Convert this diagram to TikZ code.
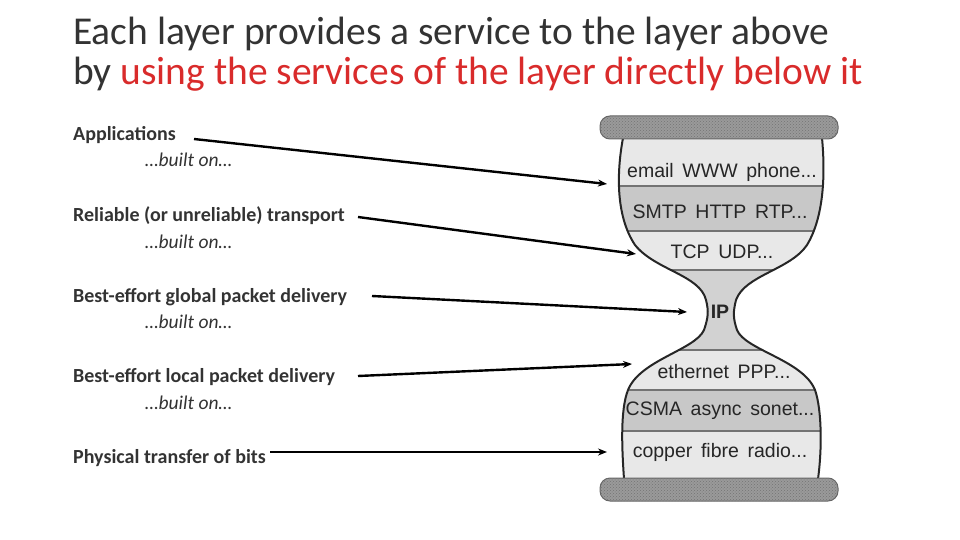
\documentclass[tikz,border=0pt]{standalone}
\usepackage{fontspec}
\setmainfont{Carlito}
\newfontfamily\hgfont{Liberation Sans}
\usetikzlibrary{arrows.meta,patterns}
\definecolor{titlered}{HTML}{D92B2B}
\definecolor{bandlight}{HTML}{E8E8E8}
\definecolor{banddark}{HTML}{C8C8C8}
\definecolor{bandip}{HTML}{D2D2D2}
\definecolor{bargray}{HTML}{9A9A9A}
\definecolor{hgtext}{HTML}{262626}
\definecolor{labeltext}{HTML}{333333}
\tikzset{
  titletext/.style={anchor=base west,inner sep=0pt,font=\fontsize{39.5}{44}\selectfont,text=black!80},
  layerlabel/.style={anchor=base west,inner sep=0pt,font=\fontsize{20}{22}\selectfont\bfseries,text=labeltext},
  builton/.style={anchor=base west,inner sep=0pt,font=\fontsize{19.5}{22}\selectfont\itshape,text=labeltext},
  hgtxt/.style={inner sep=0pt,font=\hgfont\fontsize{19.5}{21}\selectfont,text=hgtext},
  pointer/.style={line width=2.4pt,-{Stealth[length=9pt,width=7pt]}},
  barstyle/.style={rounded corners=10pt,fill=bargray,draw=black!60,line width=1pt,postaction={pattern=crosshatch dots,pattern color=black!55}},
  sep/.style={draw=black!55,line width=1.2pt}
}
\begin{document}
\begin{tikzpicture}[x=1pt,y=-1pt]
\useasboundingbox (0,0) rectangle (960,540);
% title
\node[titletext] (t1) at (73,45) {Each layer provides a service to the layer above};
\node[titletext] (t2) at (73,85) {by \textcolor{titlered}{using the services of the layer directly below it}};

% labels
\node[layerlabel] (l1) at (73,141) {Applications};
\node[builton] (b1) at (145,167) {\dots built on\dots};
\node[layerlabel] (l2) at (73,221.5) {Reliable (or unreliable) transport};
\node[builton] (b2) at (145,248) {\dots built on\dots};
\node[layerlabel] (l3) at (73,302) {Best-effort global packet delivery};
\node[builton] (b3) at (145,328) {\dots built on\dots};
\node[layerlabel] (l4) at (73,382.5) {Best-effort local packet delivery};
\node[builton] (b4) at (145,409) {\dots built on\dots};
\node[layerlabel] (l5) at (73,463) {Physical transfer of bits};

% hourglass body
\def\hgpath{(623,138) .. controls (617,170) and (615,215) .. (635,245)
  .. controls (655,270) and (700,275) .. (706,300)
  .. controls (709,312) and (708,318) .. (704,330)
  .. controls (695,350) and (640,360) .. (628,390)
  .. controls (620,410) and (622,450) .. (624,479)
  -- (818,479)
  .. controls (822,450) and (822,410) .. (815,390)
  .. controls (803,360) and (745,350) .. (737,330)
  .. controls (733,318) and (733,312) .. (736,300)
  .. controls (745,275) and (790,270) .. (807,245)
  .. controls (825,215) and (825,170) .. (822,138) -- cycle}
\begin{scope}
  \clip \hgpath;
  \fill[bandlight] (600,130) rectangle (840,186);
  \fill[banddark] (600,186) rectangle (840,231);
  \fill[bandlight] (600,231) rectangle (840,270);
  \fill[bandip] (600,270) rectangle (840,350);
  \fill[bandlight] (600,350) rectangle (840,390);
  \fill[banddark] (600,390) rectangle (840,431);
  \fill[bandlight] (600,431) rectangle (840,485);
  \draw[sep] (600,186) -- (840,186);
  \draw[sep] (600,231) -- (840,231);
  \draw[sep] (600,270) -- (840,270);
  \draw[sep] (600,350) -- (840,350);
  \draw[sep] (600,390) -- (840,390);
  \draw[sep] (600,431) -- (840,431);
\end{scope}
\draw[line width=2pt,black!85] \hgpath;

% bars
\draw[barstyle] (600,116) rectangle (838,139);
\draw[barstyle] (600,478) rectangle (838,501);

% hourglass texts
\node[hgtxt] (h1) at (722,172) {email\, WWW\, phone...};
\node[hgtxt] (h2) at (720,212) {SMTP\, HTTP\, RTP...};
\node[hgtxt] (h3) at (722,252) {TCP\, UDP...};
\node[hgtxt,font=\hgfont\fontsize{19.5}{21}\selectfont\bfseries] (h4) at (720,312) {IP};
\node[hgtxt] (h5) at (724,372) {ethernet\, PPP...};
\node[hgtxt] (h6) at (720,411) {CSMA\, async\, sonet...};
\node[hgtxt] (h7) at (720,452) {copper\, fibre\, radio...};

% arrows
\coordinate (s1) at (194,139);
\coordinate (e1) at (607,184);
\coordinate (s2) at (358,217);
\coordinate (e2) at (636,254);
\coordinate (s3) at (372,296);
\coordinate (e3) at (687,312);
\coordinate (s4) at (358,376);
\coordinate (e4) at (632,364);
\coordinate (s5) at (270,452);
\coordinate (e5) at (607,452);
\draw[pointer] (s1) -- (e1);
\draw[pointer] (s2) -- (e2);
\draw[pointer] (s3) -- (e3);
\draw[pointer] (s4) -- (e4);
\draw[pointer] (s5) -- (e5);
\end{tikzpicture}
\end{document}
